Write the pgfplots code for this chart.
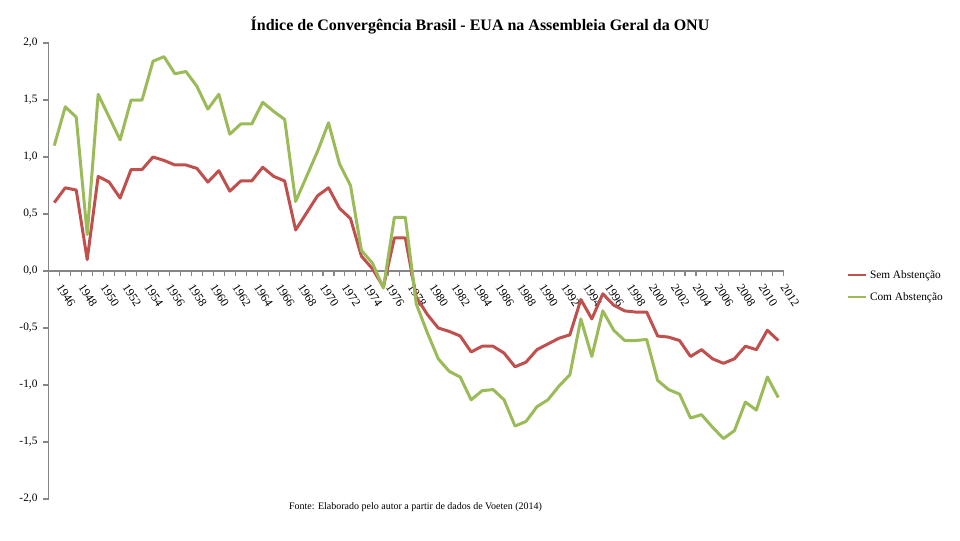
\documentclass[border=0pt]{standalone}
\usepackage{pgfplots}
\pgfplotsset{compat=1.18}
\usepackage{pgfplotstable}
\usepackage{fontspec}
\setmainfont{Liberation Serif}
\definecolor{cred}{HTML}{C0504D}
\definecolor{cgreen}{HTML}{9BBB59}
\definecolor{cgray}{HTML}{868686}
\pgfplotstableread{
year sem com
1946 0.60 1.10
1947 0.73 1.44
1948 0.71 1.35
1949 0.10 0.32
1950 0.83 1.55
1951 0.78 1.35
1952 0.64 1.15
1953 0.89 1.50
1954 0.89 1.50
1955 1.00 1.84
1956 0.97 1.88
1957 0.93 1.73
1958 0.93 1.75
1959 0.90 1.62
1960 0.78 1.42
1961 0.88 1.55
1962 0.70 1.20
1963 0.79 1.29
1964 0.79 1.29
1965 0.91 1.48
1966 0.83 1.40
1967 0.79 1.33
1968 0.36 0.61
1969 0.51 0.83
1970 0.66 1.05
1971 0.73 1.30
1972 0.55 0.94
1973 0.46 0.75
1974 0.13 0.18
1975 0.02 0.07
1976 -0.14 -0.15
1977 0.29 0.47
1978 0.29 0.47
1979 -0.23 -0.29
1980 -0.38 -0.54
1981 -0.50 -0.77
1982 -0.53 -0.88
1983 -0.57 -0.93
1984 -0.71 -1.13
1985 -0.66 -1.05
1986 -0.66 -1.04
1987 -0.72 -1.13
1988 -0.84 -1.36
1989 -0.80 -1.32
1990 -0.69 -1.19
1991 -0.64 -1.13
1992 -0.59 -1.01
1993 -0.56 -0.91
1994 -0.25 -0.42
1995 -0.42 -0.75
1996 -0.20 -0.35
1997 -0.30 -0.52
1998 -0.35 -0.61
1999 -0.36 -0.61
2000 -0.36 -0.60
2001 -0.57 -0.96
2002 -0.58 -1.04
2003 -0.61 -1.08
2004 -0.75 -1.29
2005 -0.69 -1.26
2006 -0.77 -1.37
2007 -0.81 -1.47
2008 -0.77 -1.40
2009 -0.66 -1.15
2010 -0.69 -1.22
2011 -0.52 -0.93
2012 -0.61 -1.11
}\datatable
\begin{document}
\begin{tikzpicture}[x=0.75pt,y=0.75pt]
\path[use as bounding box] (0,0) rectangle (960,540);
\begin{axis}[
  at={(48.8*0.75pt,41*0.75pt)}, anchor=south west,
  scale only axis,
  width=735*0.75pt, height=456*0.75pt,
  xmin=1945.5, xmax=2012.5,
  ymin=-2, ymax=2,
  axis y line=left,
  axis x line=middle,
  axis line style={draw=cgray, line width=1pt, -},
  tick style={draw=cgray, line width=0.8pt},
  tick align=outside,
  ytick={-2,-1.5,...,2},
  /pgf/number format/use comma,
  /pgf/number format/fixed,
  /pgf/number format/fixed zerofill,
  /pgf/number format/precision=1,
  /pgf/number format/assume math mode=true,
  yticklabel style={font=\fontsize{8.5}{9}\selectfont, xshift=-1pt},
  major tick length=4pt,
  xtick={1946,1948,...,2012},
  xticklabels={1946,1948,1950,1952,1954,1956,1958,1960,1962,1964,1966,1968,1970,1972,1974,1976,1978,1980,1982,1984,1986,1988,1990,1992,1994,1996,1998,2000,2002,2004,2006,2008,2010,2012},
  x tick style={draw=none},
  minor xtick={1945.5,1946.5,...,2012.5},
  minor tick length=4pt,
  minor x tick style={draw=cgray, line width=0.8pt},
  xticklabel style={xshift=7.5pt, rotate=-57, anchor=north west, font=\fontsize{9}{10}\selectfont},
  clip=false,
  legend style={draw=none, fill=none, at={(rel axis cs:1.085,0.508)}, anchor=north west,
     font=\fontsize{8.5}{10}\selectfont, row sep=5pt, inner sep=0pt},
  legend cell align=left,
  legend image code/.code={\draw[#1, line width=1.6pt] (0pt,0pt) -- (14pt,0pt);},
]
\addplot[cred, line width=2.25pt, line join=round] table[x=year, y=sem] {\datatable};
\addlegendentry{Sem Abstenção}
\addplot[cgreen, line width=2.25pt, line join=round] table[x=year, y=com] {\datatable};
\addlegendentry{Com Abstenção}
\node[font=\bfseries\fontsize{12}{14}\selectfont] at (rel axis cs:0.5867,1.0395) {Índice de Convergência Brasil - EUA na Assembleia Geral da ONU};
\node[font=\fontsize{7.5}{8}\selectfont] at (rel axis cs:0.499,-0.0175) {Fonte: Elaborado pelo autor a partir de dados de Voeten (2014)};
\end{axis}
\end{tikzpicture}
\end{document}
